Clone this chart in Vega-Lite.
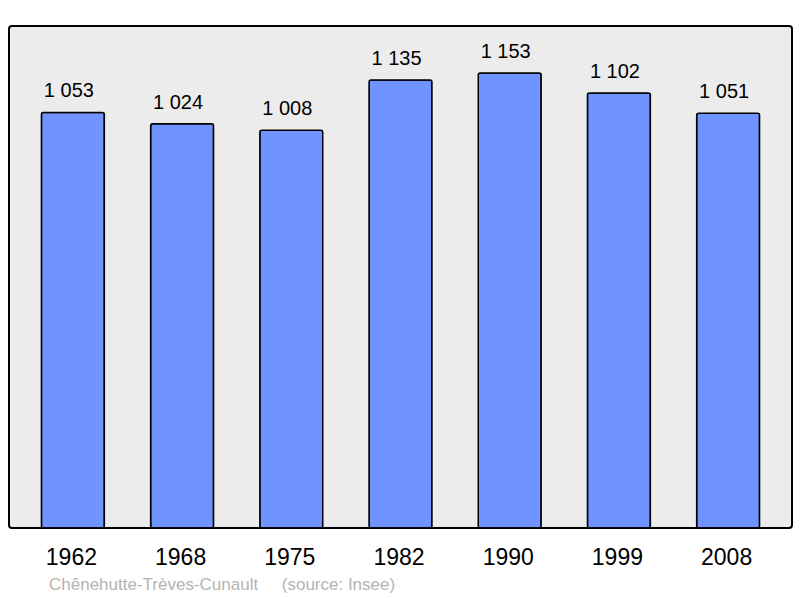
{
  "$schema": "https://vega.github.io/schema/vega-lite/v6.json",
  "autosize": "none",
  "width": 783,
  "height": 502,
  "padding": {"left": 9, "top": 26, "right": 8, "bottom": 70},
  "background": "#ffffff",
  "config": {
    "font": "Liberation Sans",
    "locale": {"number": {"decimal": ",", "thousands": " ", "grouping": [3], "currency": ["", " €"]}},
    "view": {"stroke": "#000000", "strokeWidth": 2, "fill": "#ececec", "cornerRadius": 3}
  },
  "title": {
    "text": "Chênehutte-Trèves-Cunault\u00a0\u00a0\u00a0\u00a0 (source: Insee)",
    "orient": "bottom",
    "anchor": "start",
    "frame": "group",
    "baseline": "alphabetic",
    "dx": 40,
    "offset": 21,
    "font": "Liberation Sans",
    "fontSize": 17,
    "fontWeight": "normal",
    "color": "#b4b4b4"
  },
  "data": {
    "values": [
      {"year": "1962", "population": 1053},
      {"year": "1968", "population": 1024},
      {"year": "1975", "population": 1008},
      {"year": "1982", "population": 1135},
      {"year": "1990", "population": 1153},
      {"year": "1999", "population": 1102},
      {"year": "2008", "population": 1051}
    ]
  },
  "encoding": {
    "x": {
      "field": "year",
      "type": "ordinal",
      "sort": null,
      "scale": {"paddingInner": 0.424, "paddingOuter": 0.297},
      "axis": {
        "title": null,
        "domain": false,
        "ticks": false,
        "labelAngle": 0,
        "labelFont": "Liberation Sans",
        "labelFontSize": 23,
        "labelColor": "#000000",
        "labelBaseline": "alphabetic",
        "labelPadding": 36,
        "labelOffset": -1.5
      }
    },
    "y": {
      "field": "population",
      "type": "quantitative",
      "scale": {"domain": [0, 1272], "nice": false, "zero": true},
      "axis": null
    }
  },
  "layer": [
    {
      "mark": {"type": "bar", "fill": "#7094ff", "stroke": "#000000", "strokeWidth": 1.5, "cornerRadius": 2}
    },
    {
      "mark": {"type": "text", "baseline": "alphabetic", "dy": -15, "dx": -4, "fontSize": 20, "font": "Liberation Sans", "color": "#000000"},
      "encoding": {"text": {"field": "population", "type": "quantitative", "format": ",d"}}
    }
  ]
}
